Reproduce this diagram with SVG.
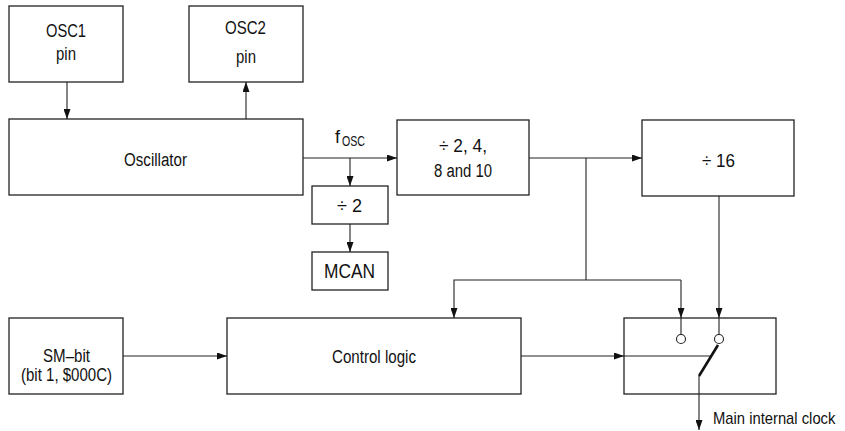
<svg xmlns="http://www.w3.org/2000/svg" width="845" height="431" viewBox="0 0 845 431">
<style>
.box{fill:#fff;stroke:#222;stroke-width:1.3}
.ln{fill:none;stroke:#222;stroke-width:1.1}
.t{font-family:"Liberation Sans Narrow","Liberation Sans",Arial,sans-serif;font-size:18px;fill:#111}
.big{font-size:20px}
.sub{font-size:14px}
</style>
<defs>
<marker id="ah" markerUnits="userSpaceOnUse" markerWidth="10" markerHeight="7" refX="10" refY="3.5" orient="auto">
<path d="M0,0 L10,3.5 L0,7 z" fill="#111"/>
</marker>
</defs>
<rect width="845" height="431" fill="#fff"/>
<g id="osc1">
<rect class="box" x="9" y="6" width="114" height="76"/>
<text class="t" x="46" y="37" textLength="40" lengthAdjust="spacingAndGlyphs">OSC1</text>
<text class="t" x="56" y="60" textLength="20" lengthAdjust="spacingAndGlyphs">pin</text>
</g>
<g id="osc2">
<rect class="box" x="189" y="6" width="114" height="76"/>
<text class="t" x="225" y="34" textLength="41" lengthAdjust="spacingAndGlyphs">OSC2</text>
<text class="t" x="236" y="63" textLength="20" lengthAdjust="spacingAndGlyphs">pin</text>
</g>
<g id="oscillator">
<rect class="box" x="9" y="119" width="294" height="76"/>
<text class="t" x="124" y="166" textLength="63" lengthAdjust="spacingAndGlyphs">Oscillator</text>
</g>
<g id="fosc-label">
<text class="t" x="335" y="143">f<tspan class="sub" x="342" y="146" textLength="23" lengthAdjust="spacingAndGlyphs">OSC</tspan></text>
</g>
<g id="div2">
<rect class="box" x="312" y="186" width="76" height="38"/>
<text class="t" x="337" y="212" textLength="25" lengthAdjust="spacingAndGlyphs">÷ 2</text>
</g>
<g id="mcan">
<rect class="box" x="312" y="252" width="76" height="38"/>
<text class="t big" x="324" y="278" textLength="51" lengthAdjust="spacingAndGlyphs">MCAN</text>
</g>
<g id="div2-4-8-10">
<rect class="box" x="397" y="120" width="132" height="75"/>
<text class="t" x="439" y="152" textLength="48" lengthAdjust="spacingAndGlyphs">÷ 2, 4,</text>
<text class="t" x="434" y="177" textLength="58" lengthAdjust="spacingAndGlyphs">8 and 10</text>
</g>
<g id="div16">
<rect class="box" x="642" y="120" width="152" height="76"/>
<text class="t" x="702" y="167" textLength="33" lengthAdjust="spacingAndGlyphs">÷ 16</text>
</g>
<g id="smbit">
<rect class="box" x="9" y="318" width="114" height="76"/>
<text class="t" x="43" y="362" textLength="47" lengthAdjust="spacingAndGlyphs">SM–bit</text>
<text class="t" x="21" y="381" textLength="91" lengthAdjust="spacingAndGlyphs">(bit 1, $000C)</text>
</g>
<g id="control-logic">
<rect class="box" x="227" y="318" width="294" height="76"/>
<text class="t" x="332" y="363" textLength="84" lengthAdjust="spacingAndGlyphs">Control logic</text>
</g>
<g id="switch">
<rect class="box" x="624" y="318" width="152" height="76"/>
<path class="ln" d="M681,318 V334.5 M719,318 V334.5 M624,356 H711"/>
<circle cx="681" cy="339" r="4.5" fill="#fff" stroke="#222" stroke-width="1.1"/>
<circle cx="719" cy="339" r="4.5" fill="#fff" stroke="#222" stroke-width="1.1"/>
<path d="M699,376 L718,345" stroke="#111" stroke-width="2.6" fill="none"/>
</g>
<g id="connectors">
<path class="ln" d="M67,82 V119" marker-end="url(#ah)"/>
<path class="ln" d="M246,119 V82" marker-end="url(#ah)"/>
<path class="ln" d="M303,158 H397" marker-end="url(#ah)"/>
<path class="ln" d="M350,158 V186" marker-end="url(#ah)"/>
<path class="ln" d="M350,224 V252" marker-end="url(#ah)"/>
<path class="ln" d="M529,158 H642" marker-end="url(#ah)"/>
<path class="ln" d="M586,158 V280"/>
<path class="ln" d="M681,280 H454 V318" marker-end="url(#ah)"/>
<path class="ln" d="M681,280 V318" marker-end="url(#ah)"/>
<path class="ln" d="M719,196 V318" marker-end="url(#ah)"/>
<path class="ln" d="M123,356 H227" marker-end="url(#ah)"/>
<path class="ln" d="M521,356 H624" marker-end="url(#ah)"/>
<path class="ln" d="M699,376 V430" marker-end="url(#ah)"/>
</g>
<g id="output-label">
<text class="t" transform="translate(713,424) scale(0.87,1)" x="0" y="0" style="font-size:17px">Main internal clock</text>
</g>
</svg>
